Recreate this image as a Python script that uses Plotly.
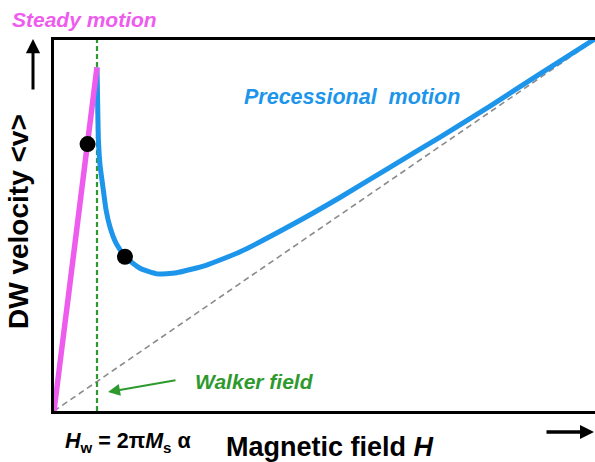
import plotly.graph_objects as go

# Field in units of the Walker field H_w; velocity in reduced units chosen so that
# the high-field asymptote is simply v = H.
H_MAX = 12.58
V_MAX = 12.58
H_WALKER = 1.0

# Steady regime: linear rise up to the Walker breakdown
steady_h = [0.0, 1.0]
steady_v = [0.0, 11.65]

# Precessional regime above H_w
precess_h = [1.00, 1.014, 1.033, 1.07, 1.147, 1.21, 1.30, 1.44, 1.65, 2.00, 2.39,
             2.85, 3.55, 4.33, 5.49, 6.65, 7.81, 8.98, 10.14, 11.30, 12.56]
precess_v = [11.65, 10.55, 9.19, 8.34, 7.49, 6.82, 6.25, 5.70, 5.23, 4.84, 4.65,
             4.69, 4.95, 5.40, 6.28, 7.24, 8.26, 9.29, 10.34, 11.43, 12.60]

# High-field asymptote
asym_h = [0.0, 12.58]
asym_v = [0.0, 12.58]

# Highlighted operating points
marker_h = [0.78, 1.65]
marker_v = [9.05, 5.23]

MAGENTA = "#EE5CEE"
BLUE = "#1C95EA"
GREEN = "#2E9A2E"
FONT = "Liberation Sans, Arial, sans-serif"

W, H = 595, 462
L, T, R, B = 54, 40, 595, 411


def paper(x, y):
    """Canvas pixel -> paper fraction of the plotting area."""
    return (x - L) / (R - L), (B - y) / (B - T)


fig = go.Figure()

fig.add_trace(go.Scatter(x=asym_h, y=asym_v, mode="lines",
                         line=dict(color="#8a8a8a", width=1.6, dash="6px,4px"),
                         hoverinfo="skip"))
fig.add_trace(go.Scatter(x=[H_WALKER, H_WALKER], y=[0, V_MAX], mode="lines",
                         line=dict(color=GREEN, width=2.2, dash="5px,3px"),
                         hoverinfo="skip"))
fig.add_trace(go.Scatter(x=precess_h, y=precess_v, mode="lines",
                         line=dict(color=BLUE, width=5, shape="spline", smoothing=0.5)))
fig.add_trace(go.Scatter(x=steady_h, y=steady_v, mode="lines",
                         line=dict(color=MAGENTA, width=5.5)))
fig.add_trace(go.Scatter(x=marker_h, y=marker_v, mode="markers",
                         marker=dict(color="black", size=16), cliponaxis=False))

ann = []


def text(x, y, s, size, color, xanchor="left", angle=0):
    px, py = paper(x, y)
    ann.append(dict(x=px, y=py, xref="paper", yref="paper", text=s, showarrow=False,
                    xanchor=xanchor, yanchor="middle", textangle=angle,
                    font=dict(family=FONT, size=size, color=color)))


def arrow(x0, y0, x1, y1, color, width, size):
    px, py = paper(x1, y1)
    ann.append(dict(x=px, y=py, xref="paper", yref="paper", text="", showarrow=True,
                    ax=x0 - x1, ay=y0 - y1, arrowhead=2, arrowsize=size,
                    arrowwidth=width, arrowcolor=color, standoff=0, startstandoff=0))


text(10, 20, "<b><i>Steady motion</i></b>", 21, MAGENTA)
text(242, 97, "<b><i>Precessional  motion</i></b>", 21.5, BLUE)
text(193, 381, "<b><i>Walker field</i></b>", 21, GREEN)
text(18, 222, "<b>DW velocity &lt;v&gt;</b>", 28, "black", xanchor="center", angle=-90)
text(224, 447, "<b>Magnetic field <i>H</i></b>", 27, "black")
text(63, 442, "<b><i>H</i><sub>w</sub> = 2π<i>M</i><sub>s</sub> α</b>", 21.5, "black")

arrow(33, 91, 33, 39, "black", 3, 0.95)
arrow(545, 432, 594, 432, "black", 3.5, 0.8)
arrow(177, 380, 108, 392, GREEN, 2, 1.2)

fig.update_layout(
    width=W, height=H,
    margin=dict(l=L, r=W - R, t=T, b=H - B),
    paper_bgcolor="white", plot_bgcolor="white",
    showlegend=False,
    annotations=ann,
    xaxis=dict(range=[0, H_MAX], showgrid=False, zeroline=False, showticklabels=False,
               ticks="", showline=True, linewidth=3, linecolor="black", mirror=True),
    yaxis=dict(range=[0, V_MAX], showgrid=False, zeroline=False, showticklabels=False,
               ticks="", showline=True, linewidth=3, linecolor="black"),
)

fig.write_html("out.html")
